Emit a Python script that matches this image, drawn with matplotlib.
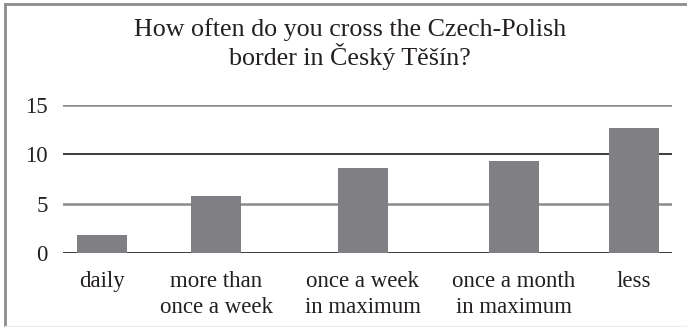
import matplotlib
matplotlib.use("Agg")
import matplotlib.pyplot as plt
from matplotlib.lines import Line2D

plt.rcParams['font.family'] = ['Liberation Serif', 'DejaVu Serif']

# survey answers and counts
answers = ['daily', 'more than\nonce a week', 'once a week\nin maximum',
           'once a month\nin maximum', 'less']
counts = [1.8, 5.8, 8.6, 9.3, 12.6]
# where each bar sits along the axis (0..5)
slots = [0.32, 1.26, 2.46, 3.70, 4.69]
yticks = [0, 5, 10, 15]

fig = plt.figure(figsize=(6.87, 3.27), dpi=100)
ax = fig.add_axes([0.0917, 0.2254, 0.8863, 0.4546])

# horizontal rules, alternating dark and grey
for v in yticks:
    if v in (5, 15):
        ax.axhline(v, color='#8a8a8a', lw=1.8, zorder=1)
    else:
        ax.axhline(v, color='#1a1a1a', lw=1.2, zorder=1)

ax.bar(slots, counts, width=0.41, color='#808084', zorder=2)

ax.set_xlim(0, 5)
ax.set_ylim(0, 15)
ax.set_yticks(yticks)
ax.set_xticks(slots)
ax.set_xticklabels(answers, linespacing=1.3)
ax.tick_params(axis='both', length=0, labelsize=16.5, colors='#231f20')
ax.tick_params(axis='y', pad=11)
ax.tick_params(axis='x', pad=13)
for s in ax.spines.values():
    s.set_visible(False)

fig.text(0.51, 0.945, 'How often do you cross the Czech-Polish\nborder in Český Těšín?',
         ha='center', va='top', fontsize=18.7, color='#231f20', linespacing=1.08)

# outer frame: left and top edges
fig.add_artist(Line2D([5 / 687, 5 / 687], [0, 1 - 4 / 327], color='#8c8c8c', lw=2))
fig.add_artist(Line2D([5 / 687, 1], [1 - 4 / 327, 1 - 4 / 327], color='#8c8c8c', lw=2))
fig.add_artist(Line2D([5 / 687, 1], [1 / 327, 1 / 327], color='#ececec', lw=1))

fig.savefig('out.png', dpi=100)
